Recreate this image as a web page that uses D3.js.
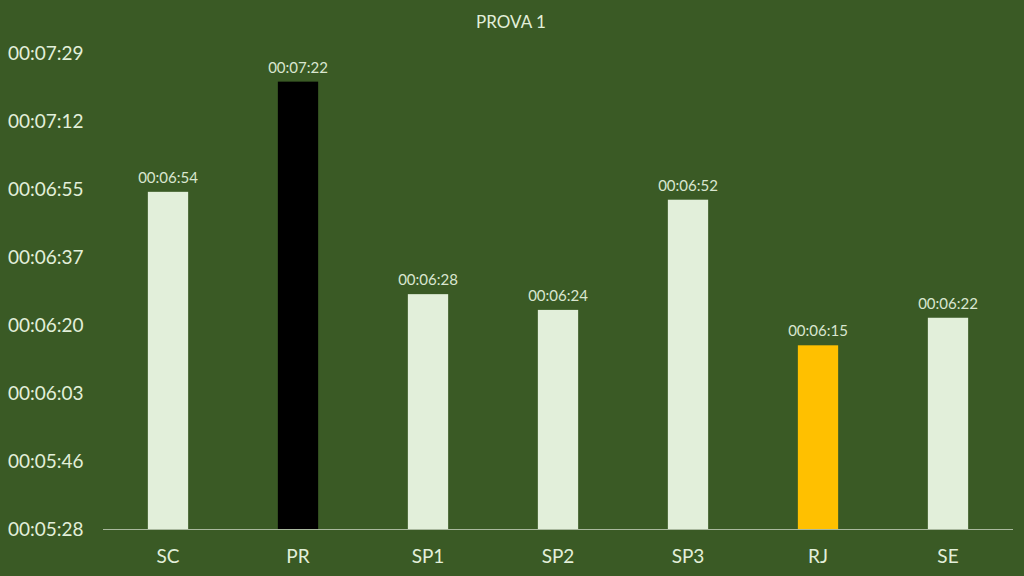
<!DOCTYPE html>
<html><head><meta charset="utf-8">
<script src="https://cdn.jsdelivr.net/npm/d3@7/dist/d3.min.js"></script>
<style>html,body{margin:0;padding:0;background:#385723;}svg{display:block;}</style>
</head><body>
<svg id="c" width="1024" height="576"></svg>
<script>
// Data (times in seconds)
const categories = ["SC","PR","SP1","SP2","SP3","RJ","SE"];
const values = [414, 442, 388, 384, 412, 375, 382];
const barColors = ["#E2EFDA","#000000","#E2EFDA","#E2EFDA","#E2EFDA","#FFC000","#E2EFDA"];
// Excel time axis: 0.0038 to 0.0052 days, step 0.0002 days
const tickDays = [0.0038,0.0040,0.0042,0.0044,0.0046,0.0048,0.0050,0.0052];
const tickValues = tickDays.map(d => d*86400);
const chartTitle = "PROVA 1";

(function(){
const fmt = s => {
  s = Math.round(s);
  const h = Math.floor(s/3600), m = Math.floor((s%3600)/60), sec = s%60;
  const p = n => String(n).padStart(2,"0");
  return p(h)+":"+p(m)+":"+p(sec);
};

const svg = d3.select("#c");
const W = 1024, H = 576;
const mLeft = 103, mRight = 1013, mTop = 53, mBottom = 529;
const font = "Lato, 'Open Sans', sans-serif";

svg.append("rect").attr("width",W).attr("height",H).attr("fill","#3A5A25");

const x = d3.scaleBand().domain(categories).range([mLeft,mRight]).paddingInner(0.69).paddingOuter(0.345);
const y = d3.scaleLinear().domain([tickValues[0], tickValues[tickValues.length-1]]).range([mBottom, mTop]);

// title
svg.append("text").attr("x",511).attr("y",28).attr("text-anchor","middle")
  .attr("font-family",font).attr("font-size",17).attr("fill","#E2EFDA").text(chartTitle);

// y axis labels
const yAxis = d3.axisLeft(y).tickValues(tickValues).tickFormat(fmt).tickSize(0).tickPadding(0);
const gy = svg.append("g").attr("transform","translate(8,0)").call(yAxis);
gy.select(".domain").remove();
gy.selectAll("text").attr("text-anchor","start").attr("x",0).attr("dy","0.36em")
  .attr("font-family",font).attr("font-size",19).attr("fill","#E2EFDA");

// bars
svg.selectAll("rect.bar").data(categories).enter().append("rect").attr("class","bar")
  .attr("x",d=>x(d)).attr("width",x.bandwidth())
  .attr("y",(d,i)=>y(values[i])).attr("height",(d,i)=>mBottom-y(values[i]))
  .attr("fill",(d,i)=>barColors[i]);

// bar labels
svg.selectAll("text.lbl").data(categories).enter().append("text").attr("class","lbl")
  .attr("x",d=>x(d)+x.bandwidth()/2).attr("y",(d,i)=>y(values[i])-9)
  .attr("text-anchor","middle").attr("font-family",font).attr("font-size",15)
  .attr("fill","#D9E6D0").text((d,i)=>fmt(values[i]));

// x axis
const xAxis = d3.axisBottom(x).tickSize(0).tickPadding(0);
const gx = svg.append("g").attr("transform",`translate(0,${mBottom})`).call(xAxis);
gx.select(".domain").attr("stroke","#A9B89E").attr("stroke-width",1.2).attr("d",`M${mLeft},0.5H${mRight}`);
gx.selectAll("text").attr("y",27).attr("dy","0.36em")
  .attr("font-family",font).attr("font-size",19).attr("fill","#E2EFDA");
})();
</script>
</body></html>
